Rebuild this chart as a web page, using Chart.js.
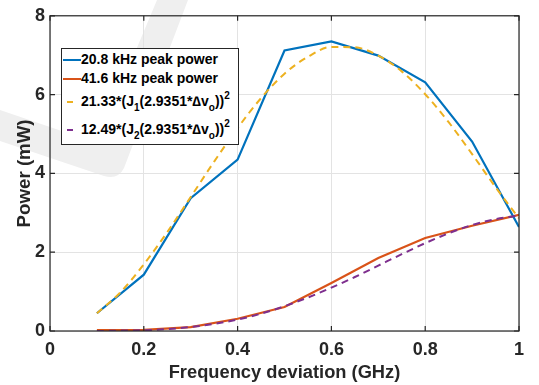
<!DOCTYPE html>
<html>
<head>
<meta charset="utf-8">
<script src="https://cdn.jsdelivr.net/npm/chart.js@4/dist/chart.umd.min.js"></script>
<style>
  body { margin: 0; background: #fff; }
  #wrap { position: relative; width: 539px; height: 385px; }
  #legend {
    position: absolute; left: 61px; top: 48px; width: 178px; height: 97px;
    border: 1px solid #262626; background: #fff; box-sizing: border-box;
    font: bold 14px "Liberation Sans", Arial, sans-serif; color: #000;
  }
  #legend .row { position: absolute; left: 0; height: 18px; white-space: nowrap; }
  #legend .sw { position: absolute; top: 9px; height: 2px; }
  #legend .txt { position: absolute; left: 19px; top: 1px; }
  #legend sub { font-size: 10px; vertical-align: -5px; line-height: 0; }
  #legend sup { font-size: 10px; vertical-align: 7px; line-height: 0; }
</style>
</head>
<body>
<div id="wrap">
  <canvas id="chart" width="539" height="385"></canvas>
  <div id="legend"></div>
</div>
<script>
// frequency deviation (GHz)
const xMeas = [0.1, 0.2, 0.3, 0.4, 0.5, 0.6, 0.7, 0.8, 0.9, 1.0];
const peak208 = [0.45, 1.43, 3.37, 4.35, 7.12, 7.35, 6.99, 6.31, 4.81, 2.64];
const peak416 = [0.02, 0.03, 0.10, 0.31, 0.61, 1.22, 1.85, 2.36, 2.67, 2.95];

const xFit = [0.1, 0.15, 0.2, 0.25, 0.3, 0.35, 0.4, 0.45, 0.5, 0.55,
              0.6, 0.65, 0.7, 0.75, 0.8, 0.85, 0.9, 0.95, 1.0];
const fitJ1 = [0.45, 0.98, 1.69, 2.51, 3.40, 4.30, 5.15, 5.91, 6.53, 6.96,
               7.21, 7.20, 6.99, 6.59, 6.01, 5.30, 4.49, 3.65, 2.86];
const fitJ2 = [0.00, 0.01, 0.02, 0.05, 0.10, 0.18, 0.29, 0.44, 0.63, 0.85,
               1.10, 1.37, 1.66, 1.95, 2.23, 2.48, 2.69, 2.84, 2.93];

const xTicks = [0, 0.2, 0.4, 0.6, 0.8, 1];
const yTicks = [0, 2, 4, 6, 8];

const labels = [
  "20.8 kHz peak power",
  "41.6 kHz peak power",
  "21.33*(J<sub>1</sub>(2.9351*&#8710;v<sub>o</sub>))<sup>2</sup>",
  "12.49*(J<sub>2</sub>(2.9351*&#8710;v<sub>o</sub>))<sup>2</sup>"
];
const colors = ["#0072BD", "#D95319", "#EDB120", "#7E2F8E"];

function pts(xs, ys) {
  return xs.map((x, i) => ({ x: x, y: ys[i] }));
}

const axisColor = "#262626";
const font = { family: "'Liberation Sans', Arial, sans-serif", weight: "bold" };

// faint watermark + box with inward ticks
const decor = {
  id: "decor",
  beforeDraw(chart) {
    const c = chart.ctx;
    c.save();
    c.fillStyle = "#efefef";
    c.beginPath();
    c.moveTo(0, 110);
    c.lineTo(97, 143);
    c.lineTo(157, 0);
    c.lineTo(188, 0);
    c.lineTo(124, 168);
    c.quadraticCurveTo(118, 180, 104, 176);
    c.lineTo(0, 141);
    c.closePath();
    c.fill();
    c.restore();
  },
  afterDatasetsDraw(chart) {
    const c = chart.ctx, a = chart.chartArea;
    const xs = chart.scales.x, ys = chart.scales.y;
    c.save();
    c.strokeStyle = axisColor;
    c.lineWidth = 1.2;
    c.strokeRect(a.left, a.top, a.right - a.left, a.bottom - a.top);
    c.beginPath();
    xTicks.forEach((t) => {
      const p = xs.getPixelForValue(t);
      c.moveTo(p, a.bottom); c.lineTo(p, a.bottom - 5);
      c.moveTo(p, a.top); c.lineTo(p, a.top + 5);
    });
    yTicks.forEach((t) => {
      const p = ys.getPixelForValue(t);
      c.moveTo(a.left, p); c.lineTo(a.left + 5, p);
      c.moveTo(a.right, p); c.lineTo(a.right - 5, p);
    });
    c.stroke();
    c.restore();
  }
};

new Chart(document.getElementById("chart"), {
  type: "line",
  data: {
    datasets: [
      { data: pts(xMeas, peak208), borderColor: colors[0], borderWidth: 2.2, order: 2 },
      { data: pts(xMeas, peak416), borderColor: colors[1], borderWidth: 2.2, order: 2 },
      { data: pts(xFit, fitJ1), borderColor: colors[2], borderWidth: 2, borderDash: [7, 5], cubicInterpolationMode: "monotone", order: 1 },
      { data: pts(xFit, fitJ2), borderColor: colors[3], borderWidth: 2, borderDash: [7, 5], cubicInterpolationMode: "monotone", order: 1 }
    ]
  },
  options: {
    responsive: false,
    animation: false,
    elements: { point: { radius: 0 }, line: { fill: false } },
    layout: { padding: { left: 0, right: 20, top: 13, bottom: 0 } },
    plugins: { legend: { display: false }, tooltip: { enabled: false } },
    scales: {
      x: {
        type: "linear", min: 0, max: 1,
        afterBuildTicks: (s) => { s.ticks = xTicks.map((v) => ({ value: v })); },
        afterFit: (s) => { s.height = 54; },
        grid: { color: "#e3e3e3", drawTicks: false },
        border: { display: false },
        ticks: { color: axisColor, font: { ...font, size: 18 }, padding: 8, maxRotation: 0,
                 callback: (v) => String(v) },
        title: { display: true, text: "Frequency deviation (GHz)", color: axisColor,
                 font: { ...font, size: 18.3 }, padding: { top: 0, bottom: 1 } }
      },
      y: {
        min: 0, max: 8,
        afterBuildTicks: (s) => { s.ticks = yTicks.map((v) => ({ value: v })); },
        afterFit: (s) => { s.width = 50; },
        grid: { color: "#e3e3e3", drawTicks: false },
        border: { display: false },
        ticks: { color: axisColor, font: { ...font, size: 18 }, padding: 5 },
        title: { display: true, text: "Power (mW)", color: axisColor,
                 font: { ...font, size: 18.7 }, padding: { top: 14, bottom: 0 } }
      }
    }
  },
  plugins: [decor]
});

// legend with sub/superscripts, built from the label list
const leg = document.getElementById("legend");
const rowTops = [1, 20, 43, 71];
labels.forEach((lab, i) => {
  const row = document.createElement("div");
  row.className = "row";
  row.style.top = rowTops[i] + "px";
  const sw = document.createElement("div");
  sw.className = "sw";
  if (i < 2) { sw.style.left = "1px"; sw.style.width = "18px"; }
  else { sw.style.left = "5px"; sw.style.width = "6px"; }
  sw.style.background = colors[i];
  const t = document.createElement("span");
  t.className = "txt";
  t.innerHTML = lab;
  row.appendChild(sw);
  row.appendChild(t);
  leg.appendChild(row);
});
</script>
</body>
</html>
